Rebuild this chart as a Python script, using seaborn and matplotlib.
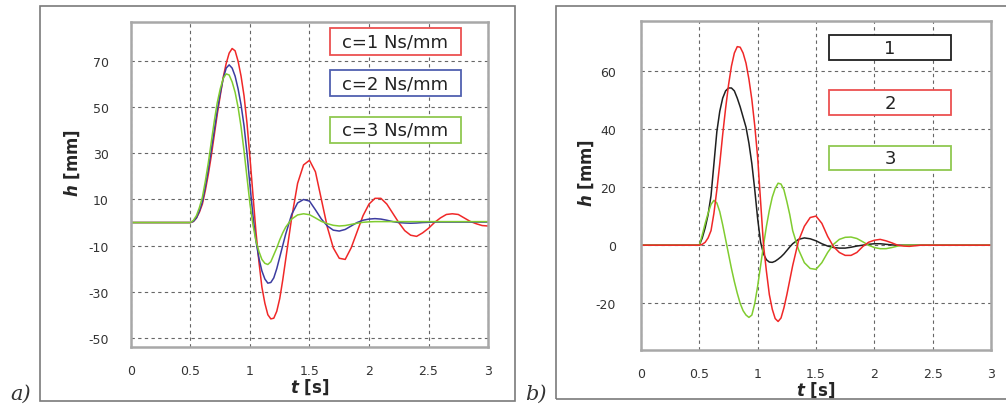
import matplotlib
matplotlib.use("Agg")
import matplotlib.pyplot as plt
from matplotlib.patches import Rectangle
import seaborn as sns
import pandas as pd

sns.set_style("white")
plt.rcParams['font.family'] = ['DejaVu Sans']
plt.rcParams['axes.unicode_minus'] = False

# ---------------- data ----------------
t = [0.0, 0.5, 0.525, 0.55, 0.575, 0.6, 0.625, 0.65, 0.675, 0.7, 0.725,
     0.75, 0.775, 0.8, 0.825, 0.85, 0.875, 0.9, 0.925, 0.95, 0.975,
     1.0, 1.025, 1.05, 1.075, 1.1, 1.125, 1.15, 1.175, 1.2, 1.225,
     1.25, 1.275, 1.3,
     1.35, 1.4, 1.45, 1.5, 1.55, 1.6, 1.65, 1.7, 1.75, 1.8,
     1.85, 1.9, 1.95, 2.0, 2.05, 2.1, 2.15, 2.2, 2.25, 2.3,
     2.35, 2.4, 2.45, 2.5, 2.55, 2.6, 2.65, 2.7, 2.75, 2.8,
     2.85, 2.9, 2.95, 3.0]

# panel a) damping c
h_c1 = [0, 0, 0.5, 2, 4.5, 8, 14, 21, 29, 38, 47,
        55, 63, 69, 73.5, 75.5, 74.5, 70, 63.5, 55, 43,
        28, 12, -4, -17, -28, -35, -40, -41.8, -41.5, -38.5,
        -33, -25, -16,
        2, 17, 25, 27, 22, 10, -2, -11, -15.5, -16,
        -11, -4, 3, 8, 10.5, 10.5, 8, 4, 0, -3.5,
        -5.5, -6, -4.5, -2.5, 0, 2, 3.5, 3.8, 3.5, 2,
        0.5, -0.5, -1.3, -1.5]
h_c2 = [0, 0, 0.5, 2, 5, 9, 15.5, 23, 31.5, 40, 48.5,
        56, 62.5, 67, 68.4, 67, 63.5, 58, 51, 42, 30,
        16, 3, -8, -15.5, -21, -24.5, -26.3, -26, -24, -20,
        -15, -10, -5,
        3.5, 8.5, 10, 9.3, 5.5, 1.5, -1.5, -3.3, -3.7, -3,
        -1.5, 0, 1, 1.5, 1.7, 1.5, 1, 0.4, 0, -0.2,
        -0.3, -0.2, 0, 0.1, 0.2, 0.2, 0.2, 0.2, 0.2, 0.2,
        0.2, 0.2, 0.2, 0.2]
h_c3 = [0, 0, 1, 3, 6.5, 11, 18, 26, 35, 44, 52,
        58, 62.5, 64.5, 64, 61, 56.5, 50, 41.5, 31, 19.5,
        8, -1, -8, -12.5, -16, -17.7, -18.2, -17, -14, -11,
        -7.5, -4.5, -2,
        1.5, 3.3, 3.8, 3.4, 2, 0.5, -0.5, -1.2, -1.5, -1.3,
        -0.8, -0.3, 0.1, 0.3, 0.4, 0.4, 0.4, 0.4, 0.4, 0.4,
        0.4, 0.4, 0.4, 0.4, 0.4, 0.4, 0.4, 0.4, 0.4, 0.4,
        0.4, 0.4, 0.4, 0.4]

# panel b) cases 1, 2, 3
h_1 = [0, 0, 2.5, 6, 10.5, 17, 28, 39, 46, 50.5, 53,
       54, 54, 53, 50.5, 47.5, 44, 40.5, 35, 28, 19,
       9, 1, -3, -5, -5.8, -5.9, -5.5, -4.8, -4, -3,
       -1.8, -0.6, 0.5,
       2, 2.5, 2.2, 1.5, 0.5, -0.3, -0.8, -1, -1, -0.7,
       -0.3, 0, 0.3, 0.5, 0.5, 0.3, 0.1, 0, 0, 0,
       0, 0, 0, 0, 0, 0, 0, 0, 0, 0,
       0, 0, 0, 0]
h_2 = [0, 0, 0.3, 1, 2.5, 5, 11, 19, 28, 38, 47,
       55, 61.5, 66, 68.2, 68, 66, 62.5, 57, 50, 41,
       30, 15, 0, -9, -17, -22, -25.2, -26.2, -25, -21.5,
       -17, -12, -7,
       1.5, 6.5, 9.5, 10, 7.5, 3, -0.5, -2.5, -3.5, -3.5,
       -2.5, -0.5, 1, 1.7, 2, 1.5, 0.8, 0, -0.3, -0.4,
       -0.2, 0, 0, 0, 0, 0, 0, 0, 0, 0,
       0, 0, 0, 0]
h_3 = [0, 0, 3.5, 7.5, 11, 14, 15.4, 14.5, 11.5, 7, 2,
       -3, -8, -12.5, -16.5, -20, -22.5, -24, -24.8, -24, -20,
       -14, -7, 0, 6.5, 12, 16.5, 19.5, 21.3, 21, 19,
       15, 10.5, 5,
       -1.5, -6, -8, -8.3, -6, -2.5, 0.3, 2, 2.7, 2.8,
       2.3, 1.2, 0, -0.8, -1.2, -1.2, -0.8, -0.3, 0, 0,
       0, 0, 0, 0, 0, 0, 0, 0, 0, 0,
       0, 0, 0, 0]

labels_a = ["c=1 Ns/mm", "c=2 Ns/mm", "c=3 Ns/mm"]
labels_b = ["1", "2", "3"]
yticks_a = [-50, -30, -10, 10, 30, 50, 70]
yticks_b = [-20, 0, 20, 40, 60]
xticks = [0, 0.5, 1, 1.5, 2, 2.5, 3]
xticklabels = ["0", "0.5", "1", "1.5", "2", "2.5", "3"]

RED, BLUE, GREEN, BLACK = "#f02828", "#3c3ca0", "#80cc30", "#202020"
BOX_RED, BOX_BLUE, BOX_GREEN = "#ec5050", "#5060b0", "#90c850"

fig = plt.figure(figsize=(10.06, 4.10), dpi=100)

# outer frames of the two panels
fig.patches.append(Rectangle((0.0398, 0.0195), 0.472, 0.9635, transform=fig.transFigure,
                             fill=False, edgecolor="#7a7a7a", lw=1.2))
fig.patches.append(Rectangle((0.5527, 0.0232), 0.46, 0.9598, transform=fig.transFigure,
                             fill=False, edgecolor="#7a7a7a", lw=1.2))

ax_a = fig.add_axes([0.1302, 0.1512, 0.3549, 0.7927])
ax_b = fig.add_axes([0.6372, 0.1439, 0.3479, 0.8024])


def style_axes(ax, yticks, ylim, ypad):
    ax.set_xlim(0, 3)
    ax.set_ylim(*ylim)
    ax.set_xticks(xticks)
    ax.set_xticklabels(xticklabels)
    ax.set_yticks(yticks)
    ax.tick_params(axis="both", length=0, labelsize=9, labelcolor="#333333")
    ax.tick_params(axis="x", pad=12)
    ax.tick_params(axis="y", pad=ypad)
    ax.grid(True, linestyle=(0, (3, 3)), color="#666666", lw=0.8)
    for s in ax.spines.values():
        s.set_color("#a8a8a8")
        s.set_linewidth(1.8)
    ax.set_xlabel(r"$\mathbfit{t}$ [s]", fontsize=12, fontweight="bold", labelpad=0)
    ax.set_ylabel(r"$\mathbfit{h}$ [mm]", fontsize=12, fontweight="bold")


def legend_boxes(ax, labels, colors, x0, x1, ys, fs):
    for lab, col, (ytop, ybot) in zip(labels, colors, ys):
        ax.add_patch(Rectangle((x0, ybot), x1 - x0, ytop - ybot, transform=ax.transAxes,
                               facecolor="white", edgecolor=col, lw=1.3, zorder=5))
        ax.text((x0 + x1) / 2, (ytop + ybot) / 2, lab, transform=ax.transAxes,
                ha="center", va="center", fontsize=fs, color="#222222", zorder=6)


# ---- panel a
df_a = pd.DataFrame({"t": t, "c1": h_c1, "c2": h_c2, "c3": h_c3})
for col, colr in [("c1", RED), ("c2", BLUE), ("c3", GREEN)]:
    sns.lineplot(data=df_a, x="t", y=col, ax=ax_a, color=colr, lw=1.1, estimator=None)
style_axes(ax_a, yticks_a, (-54, 87), 16)
ax_a.yaxis.set_label_coords(-0.137, 0.57)
legend_boxes(ax_a, labels_a, [BOX_RED, BOX_BLUE, BOX_GREEN], 0.557, 0.924,
             [(0.982, 0.898), (0.852, 0.772), (0.708, 0.628)], 13)

# ---- panel b
df_b = pd.DataFrame({"t": t, "h1": h_1, "h2": h_2, "h3": h_3})
for col, colr in [("h1", BLACK), ("h3", GREEN), ("h2", RED)]:
    sns.lineplot(data=df_b, x="t", y=col, ax=ax_b, color=colr, lw=1.1, estimator=None)
style_axes(ax_b, yticks_b, (-36, 77), 18)
ax_b.yaxis.set_label_coords(-0.13, 0.54)
legend_boxes(ax_b, labels_b, [BLACK, BOX_RED, BOX_GREEN], 0.537, 0.886,
             [(0.957, 0.881), (0.790, 0.714), (0.620, 0.547)], 13)

# panel letters
fig.text(0.010, 0.025, "a)", fontsize=15, style="italic", family="DejaVu Serif", color="#333333")
fig.text(0.522, 0.025, "b)", fontsize=15, style="italic", family="DejaVu Serif", color="#333333")

fig.savefig("out.png", dpi=100)
